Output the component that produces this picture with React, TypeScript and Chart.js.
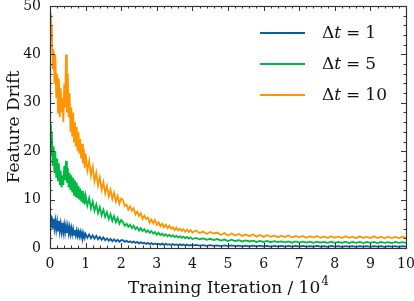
import React, { useEffect, useRef } from "react";
import { Chart, registerables } from "chart.js";

Chart.register(...registerables);

// Training iteration (units of 10^4)
const iterations = [
  0, 0.025, 0.05, 0.075, 0.1, 0.125, 0.15, 0.175, 0.2, 0.225, 0.25, 0.275, 0.3, 0.325, 0.35, 0.375, 0.4, 0.425, 0.45, 0.475,
  0.5, 0.525, 0.55, 0.575, 0.6, 0.625, 0.65, 0.675, 0.7, 0.725, 0.75, 0.775, 0.8, 0.825, 0.85, 0.875, 0.9, 0.925, 0.95, 0.975, 1.0,
  1.05, 1.1, 1.15, 1.2, 1.25, 1.3, 1.35, 1.4, 1.45, 1.5, 1.55, 1.6, 1.65, 1.7, 1.75, 1.8, 1.85, 1.9, 1.95, 2.0,
  2.05, 2.1, 2.15, 2.2, 2.25, 2.3, 2.35, 2.4, 2.45, 2.5, 2.55, 2.6, 2.65, 2.7, 2.75, 2.8, 2.85, 2.9, 2.95, 3.0,
  3.05, 3.1, 3.15, 3.2, 3.25, 3.3, 3.35, 3.4, 3.45, 3.5, 3.55, 3.6, 3.65, 3.7, 3.75, 3.8, 3.85, 3.9, 3.95, 4.0,
  4.1, 4.2, 4.3, 4.4, 4.5, 4.6, 4.7, 4.8, 4.9, 5.0, 5.1, 5.2, 5.3, 5.4, 5.5, 5.6, 5.7, 5.8, 5.9, 6.0,
  6.1, 6.2, 6.3, 6.4, 6.5, 6.6, 6.7, 6.8, 6.9, 7.0, 7.1, 7.2, 7.3, 7.4, 7.5, 7.6, 7.7, 7.8, 7.9, 8.0,
  8.1, 8.2, 8.3, 8.4, 8.5, 8.6, 8.7, 8.8, 8.9, 9.0, 9.1, 9.2, 9.3, 9.4, 9.5, 9.6, 9.7, 9.8, 9.9, 10.0,
];

// Δt = 1
const drift1 = [
  6.8, 4.2, 6.5, 4.0, 6.0, 4.1, 5.6, 3.8, 5.4, 3.6, 5.6, 3.5, 5.0, 3.4, 5.2, 3.3, 4.8, 3.2, 4.6, 3.1,
  4.5, 3.0, 4.3, 2.9, 4.1, 2.8, 3.9, 2.7, 3.7, 2.6, 3.6, 2.5, 3.4, 2.4, 3.3, 2.3, 3.2, 2.2, 3.0, 2.1, 2.9,
  2.1, 2.8, 2.0, 2.6, 1.9, 2.5, 1.8, 2.3, 1.7, 2.2, 1.6, 2.0, 1.5, 1.9, 1.4, 1.8, 1.35, 1.7, 1.3, 1.6,
  1.6, 1.25, 1.5, 1.2, 1.4, 1.1, 1.35, 1.05, 1.25, 0.95, 1.2, 0.95, 1.1, 0.85, 1.05, 0.8, 1.0, 0.75, 0.95, 0.75,
  0.9, 0.7, 0.9, 0.65, 0.85, 0.65, 0.8, 0.6, 0.8, 0.6, 0.75, 0.55, 0.75, 0.55, 0.7, 0.5, 0.7, 0.5, 0.65, 0.5,
  0.65, 0.5, 0.6, 0.45, 0.6, 0.45, 0.55, 0.4, 0.55, 0.4, 0.55, 0.4, 0.5, 0.35, 0.5, 0.35, 0.5, 0.35, 0.5, 0.35,
  0.45, 0.3, 0.45, 0.35, 0.45, 0.3, 0.45, 0.3, 0.45, 0.3, 0.45, 0.3, 0.4, 0.3, 0.45, 0.3, 0.4, 0.25, 0.45, 0.3,
  0.4, 0.25, 0.4, 0.3, 0.4, 0.25, 0.4, 0.3, 0.4, 0.25, 0.4, 0.3, 0.4, 0.25, 0.4, 0.3, 0.4, 0.25, 0.4, 0.3,
];

// Δt = 5
const drift5 = [
  25.5, 19, 24, 17, 21, 15.5, 20, 14.5, 18.5, 14, 17.5, 13, 16, 12.5, 15, 13, 17, 14, 18, 13.5,
  16.5, 12.5, 15.5, 12, 15, 11.5, 14.5, 11, 14, 10.5, 13.5, 10.3, 12.8, 10, 12.3, 9.6, 11.8, 9.3, 11.3, 9, 10.8,
  8.8, 10.3, 8.2, 9.6, 7.7, 9.0, 7.2, 8.4, 6.8, 7.9, 6.4, 7.4, 6.0, 7.0, 5.6, 6.6, 5.3, 6.2, 5.0, 5.8,
  5.3, 4.6, 5.0, 4.4, 4.8, 4.1, 4.6, 3.9, 4.3, 3.6, 4.1, 3.5, 3.9, 3.3, 3.6, 3.15, 3.5, 2.95, 3.3, 2.75,
  3.15, 2.65, 3.0, 2.55, 2.85, 2.45, 2.75, 2.35, 2.65, 2.25, 2.55, 2.15, 2.45, 2.1, 2.35, 2.0, 2.3, 1.95, 2.2, 1.85,
  2.1, 1.8, 2.0, 1.7, 1.9, 1.65, 1.85, 1.55, 1.75, 1.45, 1.7, 1.45, 1.6, 1.35, 1.55, 1.35, 1.5, 1.25, 1.45, 1.25,
  1.45, 1.2, 1.4, 1.2, 1.35, 1.15, 1.35, 1.1, 1.35, 1.1, 1.3, 1.1, 1.3, 1.05, 1.3, 1.1, 1.25, 1.05, 1.3, 1.05,
  1.25, 1.05, 1.3, 1.0, 1.25, 1.05, 1.25, 1.0, 1.25, 1.05, 1.25, 1.0, 1.25, 1.05, 1.2, 1.0, 1.25, 1.05, 1.2, 1.05,
];

// Δt = 10
const drift10 = [
  48.5, 43, 46, 37, 41, 34, 40, 31, 36, 28, 35, 27, 33, 28, 31, 26, 34, 29, 40, 28,
  36, 27, 32, 24, 29, 23, 28, 22, 26, 21, 25, 20, 24, 19.5, 22.5, 18.5, 21.5, 17.5, 20.5, 16.5, 19.5,
  16.0, 18.0, 15.0, 16.8, 13.8, 15.6, 12.9, 14.6, 12.0, 13.6, 11.3, 12.8, 10.7, 12.0, 10.1, 11.4, 9.6, 10.8, 9.1, 10.2,
  9.9, 8.7, 9.0, 7.9, 8.6, 7.7, 8.2, 6.9, 7.5, 6.6, 7.2, 6.0, 6.7, 6.0, 6.3, 5.2, 5.9, 5.1, 5.8, 4.8,
  5.3, 4.5, 5.0, 4.3, 4.8, 4.1, 4.6, 4.0, 4.3, 3.7, 4.2, 3.6, 4.0, 3.5, 3.9, 3.35, 3.8, 3.3, 3.7, 3.2,
  3.6, 3.1, 3.4, 2.9, 3.3, 3.0, 3.2, 2.7, 3.1, 2.6, 3.0, 2.6, 2.9, 2.5, 2.8, 2.45, 2.8, 2.35, 2.7, 2.3,
  2.65, 2.3, 2.6, 2.2, 2.55, 2.25, 2.6, 2.15, 2.5, 2.2, 2.5, 2.1, 2.45, 2.15, 2.5, 2.1, 2.4, 2.05, 2.45, 2.1,
  2.4, 2.05, 2.45, 2.1, 2.35, 2.0, 2.4, 2.05, 2.35, 2.0, 2.4, 2.05, 2.35, 2.0, 2.35, 2.05, 2.3, 2.0, 2.35, 2.1,
];

const seriesValues = [drift1, drift5, drift10];
const seriesSteps = ["1", "5", "10"];
const seriesColors = ["#0C5DA5", "#00B945", "#FF9500"];

const xTitle = "Training Iteration / 10";
const xTitleExp = "4";
const yTitle = "Feature Drift";

const X_MIN = 0, X_MAX = 10, X_MAJOR = 1, X_MINOR = 0.2;
const Y_MIN = 0, Y_MAX = 50, Y_MAJOR = 10, Y_MINOR = 2;

const FONT = "'DejaVu Serif', serif";
const TEXT = "#111";

function ticksBetween(min: number, max: number, step: number) {
  const out: number[] = [];
  const n = Math.round((max - min) / step);
  for (let i = 0; i <= n; i++) out.push(min + i * step);
  return out;
}

const decorPlugin = {
  id: "decor",
  afterDatasetsDraw(chart: any) {
    const ctx = chart.ctx as CanvasRenderingContext2D;
    const { left, right, top, bottom } = chart.chartArea;
    const xs = chart.scales.x;
    const ys = chart.scales.y;
    ctx.save();
    ctx.strokeStyle = "#333";
    ctx.lineWidth = 1;
    const seg = (x1: number, y1: number, x2: number, y2: number) => {
      ctx.beginPath();
      ctx.moveTo(x1, y1);
      ctx.lineTo(x2, y2);
      ctx.stroke();
    };
    const isMajor = (v: number, major: number) => Math.abs(v / major - Math.round(v / major)) < 1e-6;
    for (const v of ticksBetween(X_MIN, X_MAX, X_MINOR)) {
      const px = Math.round(xs.getPixelForValue(v)) + 0.5;
      const L = isMajor(v, X_MAJOR) ? 5 : 2.5;
      seg(px, bottom, px, bottom - L);
      seg(px, top, px, top + L);
    }
    for (const v of ticksBetween(Y_MIN, Y_MAX, Y_MINOR)) {
      const py = Math.round(ys.getPixelForValue(v)) + 0.5;
      const L = isMajor(v, Y_MAJOR) ? 5 : 2.5;
      seg(left, py, left + L, py);
      seg(right, py, right - L, py);
    }
    ctx.lineWidth = 1.2;
    ctx.strokeRect(Math.round(left) + 0.5, Math.round(top) + 0.5, Math.round(right - left), Math.round(bottom - top));

    // axis titles
    ctx.fillStyle = TEXT;
    ctx.font = `17px ${FONT}`;
    ctx.textBaseline = "alphabetic";
    const mainW = ctx.measureText(xTitle).width;
    ctx.font = `12px ${FONT}`;
    const expW = ctx.measureText(xTitleExp).width;
    const cx = (left + right) / 2;
    const startX = cx - (mainW + expW) / 2;
    ctx.font = `17px ${FONT}`;
    ctx.textAlign = "left";
    ctx.fillText(xTitle, startX, 293);
    ctx.font = `12px ${FONT}`;
    ctx.fillText(xTitleExp, startX + mainW + 1, 285);

    ctx.save();
    ctx.translate(19, (top + bottom) / 2);
    ctx.rotate(-Math.PI / 2);
    ctx.font = `17px ${FONT}`;
    ctx.textAlign = "center";
    ctx.fillText(yTitle, 0, 0);
    ctx.restore();

    // legend
    const lx0 = 260, lx1 = 305, tx = 322;
    seriesSteps.forEach((s, i) => {
      const y = 33 + i * 31;
      ctx.strokeStyle = seriesColors[i];
      ctx.lineWidth = 2;
      seg(lx0, y, lx1, y);
      ctx.fillStyle = TEXT;
      ctx.textAlign = "left";
      ctx.textBaseline = "middle";
      let x = tx;
      ctx.font = `17px ${FONT}`;
      ctx.fillText("Δ", x, y + 1);
      x += ctx.measureText("Δ").width;
      ctx.font = `italic 17px ${FONT}`;
      ctx.fillText("t", x, y + 1);
      x += ctx.measureText("t").width + 5;
      ctx.font = `17px ${FONT}`;
      ctx.fillText("=", x, y + 1);
      x += ctx.measureText("=").width + 5;
      ctx.fillText(s, x, y + 1);
    });
    ctx.restore();
  },
};

export default function App() {
  const canvasRef = useRef<HTMLCanvasElement | null>(null);

  useEffect(() => {
    document.body.style.margin = "0";
    const canvas = canvasRef.current;
    if (!canvas) return;
    const chart = new Chart(canvas, {
      type: "line",
      data: {
        datasets: seriesValues.map((vals, i) => ({
          label: `Δt = ${seriesSteps[i]}`,
          data: vals.map((v, j) => ({ x: iterations[j], y: v })),
          borderColor: seriesColors[i],
          backgroundColor: seriesColors[i],
          borderWidth: 1.8,
          pointRadius: 0,
          tension: 0,
          fill: false,
          order: 3 - i,
        })),
      },
      options: {
        animation: false,
        responsive: false,
        devicePixelRatio: 1,
        layout: { padding: { top: 6, right: 8, left: 0, bottom: 0 } },
        plugins: { legend: { display: false }, tooltip: { enabled: false } },
        scales: {
          x: {
            type: "linear",
            min: X_MIN,
            max: X_MAX,
            grid: { display: false, drawTicks: false },
            border: { display: false },
            ticks: {
              stepSize: X_MAJOR,
              padding: 8,
              color: TEXT,
              font: { family: FONT, size: 14 },
              maxRotation: 0,
              autoSkip: false,
            },
            afterFit: (s: any) => {
              s.height = 53;
              s.paddingLeft = 0;
              s.paddingRight = 0;
            },
          },
          y: {
            min: Y_MIN,
            max: Y_MAX,
            grid: { display: false, drawTicks: false },
            border: { display: false },
            ticks: {
              stepSize: Y_MAJOR,
              padding: 9,
              color: TEXT,
              font: { family: FONT, size: 14 },
            },
            afterFit: (s: any) => {
              s.width = 50;
              s.paddingTop = 0;
              s.paddingBottom = 0;
            },
          },
        },
      },
      plugins: [decorPlugin],
    });
    return () => chart.destroy();
  }, []);

  return (
    <div style={{ width: 414, height: 301 }}>
      <canvas ref={canvasRef} width={414} height={301} style={{ width: 414, height: 301, display: "block" }} />
    </div>
  );
}
